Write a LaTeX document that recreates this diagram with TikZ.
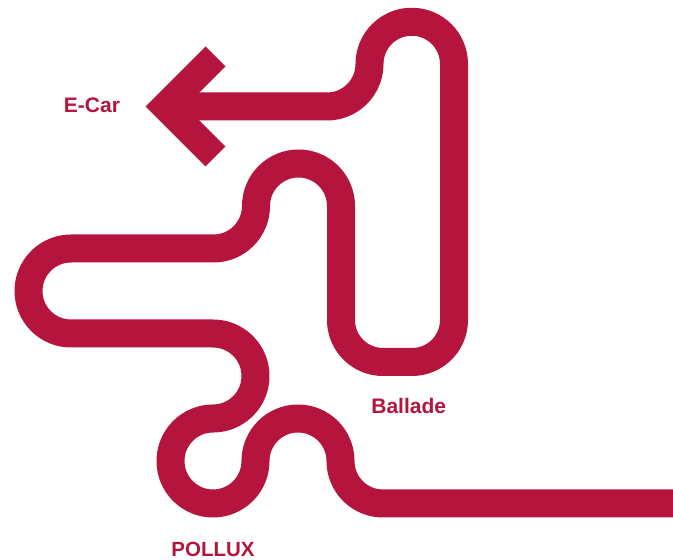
\documentclass[tikz,border=0pt]{standalone}
\usepackage{fontspec}
\setmainfont{Liberation Sans}
\definecolor{track}{HTML}{B5143D}
\begin{document}
\begin{tikzpicture}[x=1pt,y=1pt,
  trackline/.style={draw=track,line width=28pt,line cap=butt,line join=round},
  lbl/.style={text=track,font=\bfseries\fontsize{21}{21}\selectfont,inner sep=0pt,anchor=base}]
\useasboundingbox (0,0) rectangle (673,560);
\clip (0,0) rectangle (673,560);
% arrowhead (chevron)
\draw[draw=track,line width=28pt,line cap=butt,line join=miter]
  (215.5,503.5) -- (165.5,453.5) -- (215.5,403.5);
% track
\draw[trackline]
  (168,453.5) -- (327,453.5)
  arc[start angle=-90,end angle=0,radius=42.5]
  arc[start angle=180,end angle=0,radius=42.25]
  -- (454,240)
  arc[start angle=0,end angle=-90,radius=42]
  -- (383,198)
  arc[start angle=-90,end angle=-180,radius=42]
  -- (341,354)
  arc[start angle=0,end angle=180,radius=42.5]
  arc[start angle=0,end angle=-90,radius=42.5]
  -- (71,311.5)
  arc[start angle=90,end angle=270,radius=42.5]
  -- (213,226.5)
  arc[start angle=90,end angle=-90,radius=42.5]
  arc[start angle=90,end angle=360,radius=42.5]
  arc[start angle=180,end angle=0,radius=42.5]
  arc[start angle=180,end angle=270,radius=42.5]
  -- (700,56.5);
\node[lbl] (ecar) at (92,447) {E-Car};
\node[lbl] (ballade) at (408.7,146) {Ballade};
\node[lbl,font=\bfseries\fontsize{20.5}{20.5}\selectfont] (pollux) at (213,3.3) {POLLUX};
\end{tikzpicture}
\end{document}
